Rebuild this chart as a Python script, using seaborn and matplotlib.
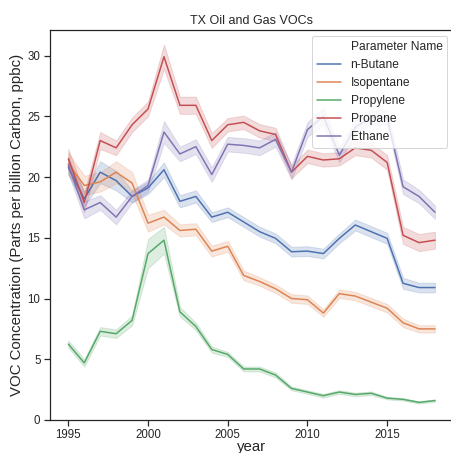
import matplotlib
matplotlib.use("Agg")
import matplotlib.pyplot as plt
from matplotlib.lines import Line2D
import pandas as pd
import seaborn as sns

years = list(range(1995, 2019))
parameters = ["n-Butane", "Isopentane", "Propylene", "Propane", "Ethane"]

# annual mean concentrations (ppbc)
n_butane = [20.8, 18.2, 20.4, 19.7, 18.4, 19.1, 20.6, 18.0, 18.4, 16.7, 17.1, 16.3,
            15.5, 14.95, 13.85, 13.9, 13.7, 14.95, 16.05, 15.5, 14.95, 11.25, 10.9, 10.9]
isopentane = [21.1, 19.3, 19.6, 20.4, 19.5, 16.2, 16.7, 15.6, 15.7, 13.9, 14.3, 11.9,
              11.4, 10.8, 10.0, 9.9, 8.8, 10.4, 10.2, 9.7, 9.2, 8.0, 7.5, 7.5]
propylene = [6.25, 4.7, 7.3, 7.1, 8.2, 13.7, 14.8, 8.9, 7.7, 5.8, 5.4, 4.2,
             4.2, 3.7, 2.6, 2.3, 2.0, 2.3, 2.1, 2.2, 1.8, 1.7, 1.45, 1.6]
propane = [21.5, 17.9, 23.0, 22.4, 24.3, 25.6, 29.9, 25.9, 25.9, 23.0, 24.3, 24.5,
           23.8, 23.5, 20.4, 21.7, 21.4, 21.5, 22.4, 22.2, 21.2, 15.2, 14.6, 14.8]
ethane = [21.0, 17.3, 17.9, 16.7, 18.4, 19.3, 23.7, 21.9, 22.5, 20.2, 22.7, 22.6,
          22.4, 23.1, 20.4, 23.9, 25.0, 21.8, 24.1, 24.9, 24.9, 19.2, 18.4, 17.1]

# half-widths of the 95% confidence interval around each annual mean
n_butane_ci = [0.6, 0.6, 0.9, 0.8, 0.5, 0.5, 0.6, 0.5, 0.5, 0.4, 0.4, 0.4,
               0.4, 0.4, 0.4, 0.4, 0.4, 0.4, 0.45, 0.45, 0.45, 0.45, 0.4, 0.4]
isopentane_ci = [0.9, 0.8, 0.8, 0.9, 0.9, 0.7, 0.6, 0.5, 0.5, 0.45, 0.45, 0.4,
                 0.35, 0.35, 0.35, 0.35, 0.3, 0.35, 0.35, 0.35, 0.35, 0.35, 0.3, 0.3]
propylene_ci = [0.3, 0.3, 0.35, 0.35, 0.4, 1.2, 1.1, 0.4, 0.3, 0.25, 0.2, 0.2,
                0.2, 0.2, 0.15, 0.15, 0.15, 0.15, 0.15, 0.15, 0.1, 0.1, 0.1, 0.1]
propane_ci = [0.8, 0.8, 0.7, 0.6, 0.6, 0.6, 1.0, 0.7, 0.7, 0.6, 0.55, 0.55,
              0.55, 0.55, 0.5, 0.55, 0.55, 0.55, 0.6, 0.6, 0.6, 0.7, 0.7, 0.7]
ethane_ci = [0.7, 0.7, 0.6, 0.6, 0.5, 0.5, 0.9, 0.6, 0.6, 0.6, 0.6, 0.6,
             0.6, 0.6, 0.6, 0.6, 0.7, 0.6, 0.6, 0.6, 0.6, 0.6, 0.55, 0.55]

means = [n_butane, isopentane, propylene, propane, ethane]
halfwidths = [n_butane_ci, isopentane_ci, propylene_ci, propane_ci, ethane_ci]

# long table: each year holds the mean and the two interval bounds, so the
# seaborn estimator returns the mean and a full-range interval gives the band
rows = []
for name, m, h in zip(parameters, means, halfwidths):
    for yr, v, w in zip(years, m, h):
        for val in (v - w, v, v + w):
            rows.append({"year": yr, "Parameter Name": name, "value": val})
df = pd.DataFrame(rows)

sns.set_theme(style="ticks", context="notebook", palette="deep")
plt.rcParams["font.family"] = ["Liberation Sans", "DejaVu Sans"]

fig = plt.figure(figsize=(451 / 72, 453 / 72), dpi=72)
ax = fig.add_axes([50 / 451, 33 / 453, 403.3 / 451, 390 / 453])

sns.lineplot(data=df, x="year", y="value", hue="Parameter Name",
             hue_order=parameters, estimator="mean", errorbar=("pi", 100),
             ax=ax)

ax.set_xlim(1993.85, 2019.15)
ax.set_ylim(0, 32.1)
ax.set_xticks([1995, 2000, 2005, 2010, 2015])
ax.tick_params(labelsize=11.5)
ax.set_title("TX Oil and Gas VOCs", fontsize=12.5)
ax.set_xlabel("year", fontsize=15, labelpad=-1)
ax.set_ylabel("VOC Concentration (Parts per billion Carbon, ppbc)", fontsize=15)

handles, labels = ax.get_legend_handles_labels()
blank = Line2D([], [], linestyle="none")
ax.legend([blank] + handles, ["Parameter Name"] + labels, loc="upper right",
          fontsize=12)

fig.savefig("out.png", dpi=72)
